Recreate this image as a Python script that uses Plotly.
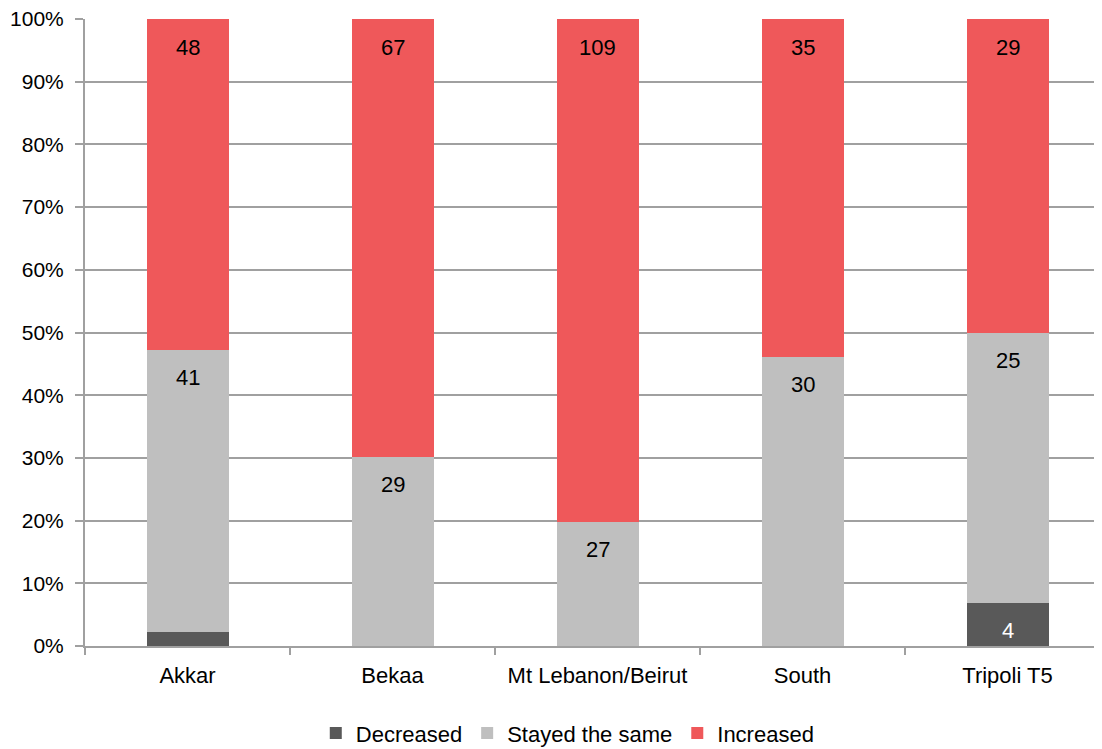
import plotly.graph_objects as go

categories = ["Akkar", "Bekaa", "Mt Lebanon/Beirut", "South", "Tripoli T5"]
decreased = [2, 0, 0, 0, 4]
stayed = [41, 29, 27, 30, 25]
increased = [48, 67, 109, 35, 29]
y_ticks = [0, 0.1, 0.2, 0.3, 0.4, 0.5, 0.6, 0.7, 0.8, 0.9, 1.0]

totals = [d + s + i for d, s, i in zip(decreased, stayed, increased)]
dec_p = [d / t for d, t in zip(decreased, totals)]
sta_p = [s / t for s, t in zip(stayed, totals)]
inc_p = [i / t for i, t in zip(increased, totals)]

FONT = "Liberation Sans, Arial, sans-serif"
FS = 22
series = [
    ("Decreased", dec_p, decreased, "#595959", "white"),
    ("Stayed the same", sta_p, stayed, "#BFBFBF", "black"),
    ("Increased", inc_p, increased, "#EF585A", "black"),
]

fig = go.Figure()
for name, p, counts, color, tcolor in series:
    fig.add_trace(go.Bar(
        name=name, x=categories, y=p,
        marker=dict(color=color, line=dict(width=0)),
        hoverinfo="skip",
    ))

# data labels near top of each segment
annotations = []
for idx, c in enumerate(categories):
    base = 0.0
    for name, p, counts, color, tcolor in series:
        top = base + p[idx]
        show = counts[idx] > 0 and not (name == "Decreased" and counts[idx] < 3)
        if show:
            annotations.append(dict(
                x=c, y=top, xref="x", yref="y", text=str(counts[idx]),
                showarrow=False, yanchor="middle", yshift=-28,
                font=dict(family=FONT, size=FS, color=tcolor),
            ))
        base = top

fig.update_layout(
    barmode="stack",
    bargap=0.6,
    width=1102, height=749,
    margin=dict(l=77, r=0, t=11, b=111, autoexpand=False),
    plot_bgcolor="white", paper_bgcolor="white",
    font=dict(family=FONT, size=FS, color="black"),
    showlegend=True,
    legend=dict(orientation="h", x=0.471, xanchor="center", y=-0.139, yanchor="middle",
                font=dict(family=FONT, size=FS), traceorder="normal"),
    annotations=annotations,
)
fig.update_xaxes(
    range=[-0.5, 4.5], showline=True, linecolor="#A0A0A0", linewidth=2,
    ticks="outside", tickson="boundaries", ticklen=7, tickcolor="#A0A0A0", tickwidth=2,
    showgrid=False, ticklabelstandoff=9, automargin=False, tickangle=0,
    ticklabeloverflow="allow",
    tickfont=dict(family=FONT, size=FS),
)
fig.update_yaxes(
    range=[0, 1], tickvals=y_ticks, tickformat=".0%",
    showline=True, linecolor="#A0A0A0", linewidth=2,
    ticks="outside", ticklen=8, tickcolor="#A0A0A0", tickwidth=2,
    showgrid=True, gridcolor="#A0A0A0", gridwidth=2,
    zeroline=False, ticklabelstandoff=7, automargin=False,
    ticklabeloverflow="allow",
    tickfont=dict(family=FONT, size=21),
)
fig.write_html("out.html")
